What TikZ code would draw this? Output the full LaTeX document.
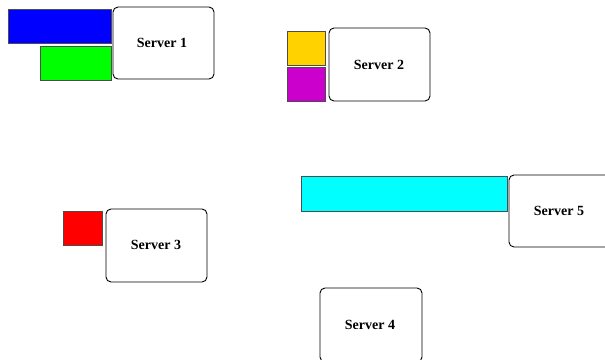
\documentclass[tikz,border=0pt]{standalone}
\usepackage{fontspec}
\setmainfont{Liberation Serif}
\definecolor{slotcyan}{RGB}{0,255,255}
\definecolor{slotgold}{RGB}{255,210,0}
\definecolor{slotmagenta}{RGB}{204,0,204}
\begin{document}
\begin{tikzpicture}[x=1pt,y=-1pt,
  server/.style={draw=black,line width=0.9pt,rounded corners=5pt,fill=white},
  slot/.style={draw=black!70,line width=0.8pt},
  label/.style={font=\fontsize{14}{16}\selectfont\bfseries,inner sep=0pt}]
\useasboundingbox (0,0) rectangle (605,359);
\clip (0,0) rectangle (605,359);
% server 1 with its blue and green blocks
\draw[slot,fill=blue] (8,9) rectangle (111,43);
\draw[slot,fill=green] (40,46) rectangle (111,80);
\draw[server] (113,7) rectangle (214,79);
\node[label] (s1) at (162,43) {Server 1};
% server 2
\draw[slot,fill=slotgold] (287,31) rectangle (325,65);
\draw[slot,fill=slotmagenta] (287,67) rectangle (325,101);
\draw[server] (329,28) rectangle (430,101);
\node[label] (s2) at (379,65) {Server 2};
% server 5
\draw[slot,fill=slotcyan] (301,176) rectangle (507,211);
\draw[server] (509,175) rectangle (610,247);
\node[label] (s5) at (559,211) {Server 5};
% server 3
\draw[slot,fill=red] (63,211) rectangle (102,245);
\draw[server] (106,209) rectangle (207,282);
\node[label] (s3) at (156,245) {Server 3};
% server 4
\draw[server] (320,288) rectangle (422,362);
\node[label] (s4) at (370,325) {Server 4};
\end{tikzpicture}
\end{document}
